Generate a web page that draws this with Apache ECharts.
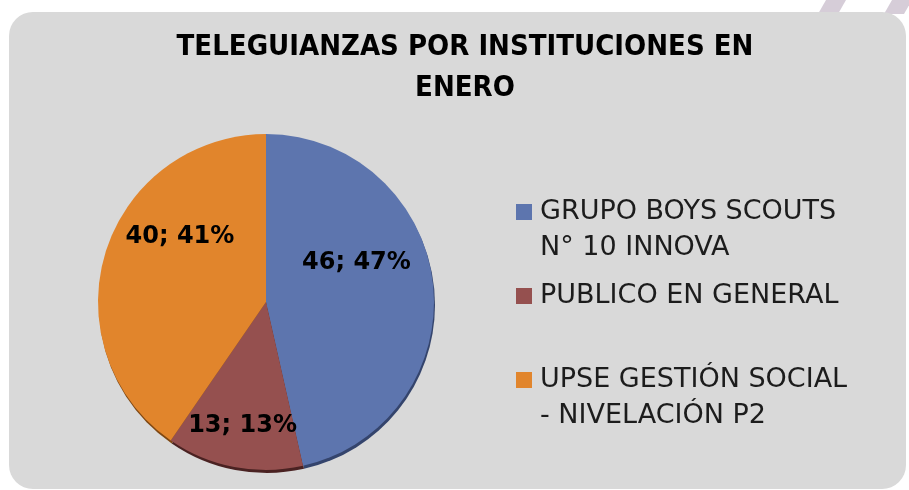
<!DOCTYPE html>
<html>
<head>
<meta charset="utf-8">
<script src="https://cdn.jsdelivr.net/npm/echarts@6/dist/echarts.min.js"></script>
<style>
html,body{margin:0;padding:0;background:#ffffff;}
#chart{width:909px;height:490px;}
</style>
</head>
<body>
<div id="chart"></div>
<script>
const titleText = 'TELEGUIANZAS POR INSTITUCIONES EN\nENERO';
const categories = ['GRUPO BOYS SCOUTS N° 10 INNOVA', 'PUBLICO EN GENERAL', 'UPSE GESTIÓN SOCIAL - NIVELACIÓN P2'];
const values = [46, 13, 40];
const percentLabels = [47, 13, 41];
const legendLines = [['GRUPO BOYS SCOUTS', 'N° 10 INNOVA'], ['PUBLICO EN GENERAL'], ['UPSE GESTIÓN SOCIAL', '- NIVELACIÓN P2']];
const colors = ['#5d75ae', '#95504f', '#e1852c'];
const edgeColors = ['#34446c', '#4a2222', '#7e4712'];

const labelOffsets = [[4, -30], [-7, 38], [-3, -39]];

const chart = echarts.init(document.getElementById('chart'), null, {renderer: 'canvas'});

const pieData = categories.map((c, i) => ({
  name: c,
  value: values[i],
  itemStyle: {color: colors[i]},
  label: {offset: labelOffsets[i]}
}));

const edgeData = categories.map((c, i) => ({
  name: c,
  value: values[i],
  itemStyle: {color: edgeColors[i]}
}));

const option = {
  backgroundColor: '#ffffff',
  animation: false,
  graphic: [
    {type: 'polygon', z: 0, shape: {points: [[818, 14], [838, 14], [846, 0], [826, 0]]}, style: {fill: '#d6cdd8'}},
    {type: 'polygon', z: 0, shape: {points: [[884, 14], [904, 14], [912, 0], [892, 0]]}, style: {fill: '#d6cdd8'}},
    {type: 'rect', z: 1, shape: {x: 9, y: 12, width: 897, height: 477, r: 24}, style: {fill: '#d9d9d9'}}
  ],
  title: {
    text: titleText,
    left: 465,
    top: 27,
    padding: 0,
    textAlign: 'center',
    textStyle: {
      fontFamily: '"DejaVu Sans Condensed", "DejaVu Sans", sans-serif',
      fontWeight: 'bold',
      fontSize: 29,
      lineHeight: 41,
      color: '#000000'
    }
  },
  legend: {
    orient: 'vertical',
    left: 516,
    top: 158,
    padding: 0,
    itemWidth: 16,
    itemHeight: 16,
    itemGap: 12,
    icon: 'rect',
    data: categories,
    formatter: function (name) {
      const i = categories.indexOf(name);
      const lines = legendLines[i];
      return lines.length > 1 ? '\n' + lines.join('\n') : lines[0];
    },
    textStyle: {
      fontFamily: '"DejaVu Sans", sans-serif',
      fontSize: 27,
      lineHeight: 36,
      color: '#1c1c1c',
      padding: [0, 0, 0, 3]
    }
  },
  series: [{
    type: 'pie',
    center: [266, 302],
    radius: [0, 168],
    startAngle: 90,
    clockwise: true,
    z: 3,
    data: pieData,
    itemStyle: {borderWidth: 0},
    label: {
      show: true,
      position: 'inside',
      fontFamily: '"DejaVu Sans", sans-serif',
      fontWeight: 'bold',
      fontSize: 24,
      color: '#000000',
      formatter: function (p) {
        return p.value + '; ' + percentLabels[p.dataIndex] + '%';
      }
    },
    labelLine: {show: false},
    emphasis: {disabled: true}
  }, {
    type: 'pie',
    center: [267, 305],
    radius: [0, 168],
    startAngle: 90,
    clockwise: true,
    z: 2,
    silent: true,
    data: edgeData,
    itemStyle: {borderWidth: 0},
    label: {show: false},
    labelLine: {show: false},
    emphasis: {disabled: true},
    tooltip: {show: false}
  }]
};

chart.setOption(option);
</script>
</body>
</html>
